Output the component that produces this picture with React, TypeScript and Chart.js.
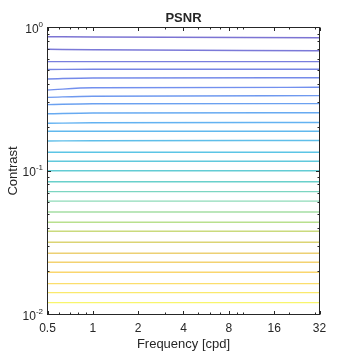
import { useEffect, useRef } from "react";
import { Chart, registerables } from "chart.js";

Chart.register(...registerables);

// Spatial frequency samples (cpd) at which each contour line is defined
const frequencies = [0.5, 1, 32];

// Contrast of each PSNR contour line (top to bottom) at 0.5, 1 and 32 cpd
const contrastAtLow = [
  0.863, 0.705, 0.578, 0.51, 0.438, 0.367, 0.326, 0.29, 0.2507, 0.215,
  0.1891, 0.1618, 0.1352, 0.117, 0.1003, 0.0842, 0.0718, 0.0617, 0.0518,
  0.0439, 0.038, 0.0319, 0.0267, 0.0231, 0.0197, 0.0164, 0.0142, 0.0121,
];
const contrastAtOne = [
  0.859, 0.7, 0.578, 0.512, 0.445, 0.38, 0.332, 0.294, 0.2536, 0.2168,
  0.1891, 0.1626, 0.1352, 0.117, 0.1003, 0.0842, 0.0718, 0.0617, 0.0518,
  0.0439, 0.038, 0.0319, 0.0267, 0.0231, 0.0197, 0.0164, 0.0142, 0.0121,
];
const contrastAtHigh = [
  0.849, 0.689, 0.578, 0.512, 0.447, 0.383, 0.335, 0.295, 0.2548, 0.2178,
  0.1891, 0.1632, 0.1352, 0.117, 0.1003, 0.0842, 0.0718, 0.0617, 0.0518,
  0.0439, 0.038, 0.0319, 0.0267, 0.0231, 0.0197, 0.0164, 0.0142, 0.0121,
];

const xTickValues = [0.5, 1, 2, 4, 8, 16, 32];
const xTickLabels = ["0.5", "1", "2", "4", "8", "16", "32"];
const xMinorTicks = [0.6, 0.7, 0.8, 0.9, 3, 5, 6, 7, 9, 10, 20, 30];
const yTickValues = [0.01, 0.1, 1];
const yTickExponents = ["-2", "-1", "0"];
const yMinorTicks = [
  0.02, 0.03, 0.04, 0.05, 0.06, 0.07, 0.08, 0.09,
  0.2, 0.3, 0.4, 0.5, 0.6, 0.7, 0.8, 0.9,
];

const titleText = "PSNR";
const xTitle = "Frequency [cpd]";
const yTitle = "Contrast";

const colorStops: [number, number, number, number][] = [
  [0.0, 62, 50, 190],
  [0.18, 50, 90, 230],
  [0.33, 25, 140, 235],
  [0.45, 15, 170, 215],
  [0.55, 30, 185, 180],
  [0.63, 90, 200, 150],
  [0.7, 150, 210, 90],
  [0.76, 190, 195, 50],
  [0.82, 230, 185, 50],
  [0.9, 250, 195, 40],
  [1.0, 245, 240, 40],
];

function colorAt(t: number, alpha: number) {
  for (let i = 0; i < colorStops.length - 1; i++) {
    const a = colorStops[i];
    const b = colorStops[i + 1];
    if (t >= a[0] && t <= b[0]) {
      const f = (t - a[0]) / (b[0] - a[0] || 1);
      const r = Math.round(a[1] + (b[1] - a[1]) * f);
      const g = Math.round(a[2] + (b[2] - a[2]) * f);
      const bl = Math.round(a[3] + (b[3] - a[3]) * f);
      return `rgba(${r},${g},${bl},${alpha})`;
    }
  }
  const l = colorStops[colorStops.length - 1];
  return `rgba(${l[1]},${l[2]},${l[3]},${alpha})`;
}

const FONT = '"Liberation Sans", Arial, Helvetica, sans-serif';
const AX = "#262626";

const matlabAxes = {
  id: "matlabAxes",
  afterDraw(chart: any) {
    const ctx = chart.ctx as CanvasRenderingContext2D;
    const { left, right, top, bottom } = chart.chartArea;
    const xs = chart.scales.x;
    const ys = chart.scales.y;
    ctx.save();
    ctx.strokeStyle = AX;
    ctx.lineWidth = 1;
    ctx.strokeRect(left, top, right - left, bottom - top);
    const major = 3.5;
    const minor = 2;
    ctx.beginPath();
    const xTick = (v: number, len: number) => {
      const px = Math.round(xs.getPixelForValue(v)) + 0.5;
      ctx.moveTo(px, bottom);
      ctx.lineTo(px, bottom - len);
      ctx.moveTo(px, top);
      ctx.lineTo(px, top + len);
    };
    const yTick = (v: number, len: number) => {
      const py = Math.round(ys.getPixelForValue(v) - 0.5) + 0.5;
      ctx.moveTo(left, py);
      ctx.lineTo(left + len, py);
      ctx.moveTo(right, py);
      ctx.lineTo(right - len, py);
    };
    xTickValues.forEach((v) => xTick(v, major));
    xMinorTicks.forEach((v) => xTick(v, minor));
    yTickValues.forEach((v) => yTick(v, major));
    yMinorTicks.forEach((v) => yTick(v, minor));
    ctx.stroke();

    ctx.fillStyle = AX;
    ctx.font = `12px ${FONT}`;
    ctx.textAlign = "center";
    ctx.textBaseline = "alphabetic";
    xTickValues.forEach((v, i) => {
      ctx.fillText(xTickLabels[i], xs.getPixelForValue(v), bottom + 17);
    });
    yTickValues.forEach((v, i) => {
      const py = ys.getPixelForValue(v);
      const rightEdge = left - 4.5;
      ctx.font = `8px ${FONT}`;
      const supW = ctx.measureText(yTickExponents[i]).width;
      ctx.textAlign = "right";
      ctx.fillText(yTickExponents[i], rightEdge, py - 0.8);
      ctx.font = `12px ${FONT}`;
      ctx.fillText("10", rightEdge - supW, py + 5);
    });
    ctx.font = `bold 13px ${FONT}`;
    ctx.textAlign = "center";
    ctx.fillText(titleText, (left + right) / 2, top - 6);
    ctx.font = `13px ${FONT}`;
    ctx.fillText(xTitle, (left + right) / 2, 347.5);
    ctx.save();
    ctx.translate(16.5, (top + bottom) / 2);
    ctx.rotate(-Math.PI / 2);
    ctx.fillText(yTitle, 0, 0);
    ctx.restore();
    ctx.restore();
  },
};

export default function App() {
  const ref = useRef<HTMLCanvasElement | null>(null);
  useEffect(() => {
    if (!ref.current) return;
    const n = contrastAtLow.length;
    const datasets = contrastAtLow.map((c0, i) => ({
      label: `level ${i + 1}`,
      data: [
        { x: frequencies[0], y: c0 },
        { x: frequencies[1], y: contrastAtOne[i] },
        { x: frequencies[2], y: contrastAtHigh[i] },
      ],
      borderColor: colorAt(i / (n - 1), 0.68),
      borderWidth: 1.4,
      pointRadius: 0,
      cubicInterpolationMode: "monotone" as const,
      fill: false,
    }));
    const chart = new Chart(ref.current, {
      type: "line",
      data: { datasets },
      options: {
        animation: false,
        responsive: false,
        devicePixelRatio: 1,
        layout: { padding: { left: 47.5, right: 34.5, top: 27.5, bottom: 39.5 } },
        plugins: { legend: { display: false }, tooltip: { enabled: false }, title: { display: false } },
        scales: {
          x: { type: "logarithmic", min: 0.5, max: 32, display: false },
          y: { type: "logarithmic", min: 0.01, max: 1, display: false },
        },
      },
      plugins: [matlabAxes],
    });
    return () => chart.destroy();
  }, []);
  return (
    <div style={{ position: "fixed", left: 0, top: 0, width: 354, height: 354, background: "#fff" }}>
      <canvas ref={ref} width={354} height={354} style={{ display: "block" }} />
    </div>
  );
}
